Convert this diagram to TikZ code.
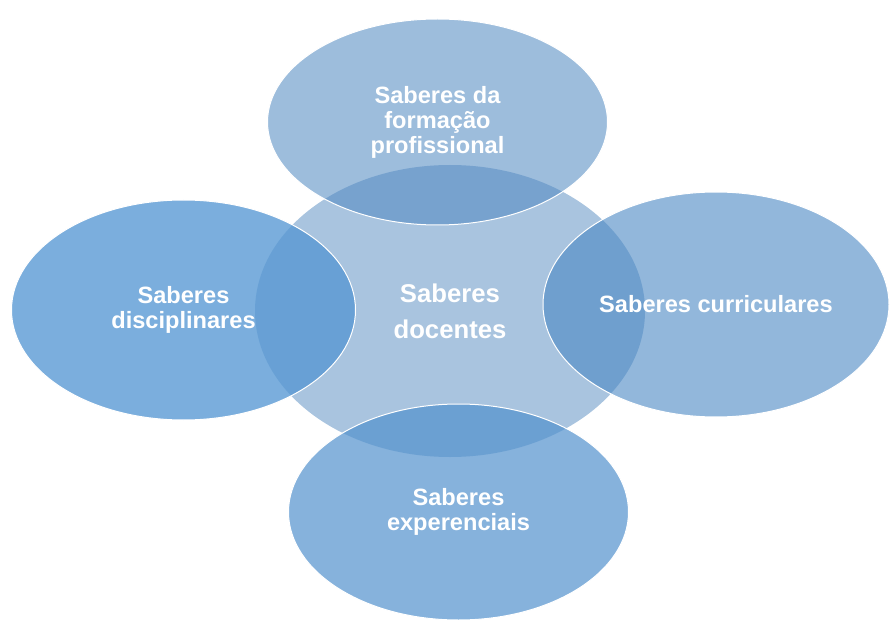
\documentclass[tikz,border=0pt]{standalone}
\usepackage{fontspec}
\setmainfont{Liberation Sans}
\usetikzlibrary{shapes.geometric}
\definecolor{cmid}{RGB}{169,196,223}
\definecolor{ctop}{RGB}{80,137,193}
\definecolor{cleft}{RGB}{86,151,211}
\definecolor{cright}{RGB}{73,135,195}
\definecolor{cbot}{RGB}{82,145,205}
\tikzset{
  blob/.style={ellipse, inner sep=0pt, outer sep=0pt, draw=white, line width=1pt,
    text=white, text opacity=1, draw opacity=1, align=center,
    font=\bfseries\fontsize{23.6}{25}\selectfont},
  midblob/.style={blob, draw=none, fill=cmid,
    font=\bfseries\fontsize{25.7}{36}\selectfont}
}
\begin{document}
\begin{tikzpicture}[x=1pt,y=-1pt]
\useasboundingbox (0,0) rectangle (891,620);
\node[midblob, minimum width=390pt, minimum height=292pt] (mid) at (450,311) {Saberes\\docentes};
\node[blob, fill=ctop, fill opacity=0.56, minimum width=340pt, minimum height=206pt] (top) at (437.5,122) {Saberes da\\formação\\profissional};
\node[blob, fill=cleft, fill opacity=0.78, minimum width=344pt, minimum height=220pt] (left) at (183.5,310) {Saberes\\disciplinares};
\node[blob, fill=cright, fill opacity=0.6, minimum width=346pt, minimum height=225pt] (right) at (716,304.5) {Saberes curriculares};
\node[blob, fill=cbot, fill opacity=0.7, minimum width=340pt, minimum height=216pt] (bot) at (458.5,512) {Saberes\\experenciais};
\end{tikzpicture}
\end{document}
